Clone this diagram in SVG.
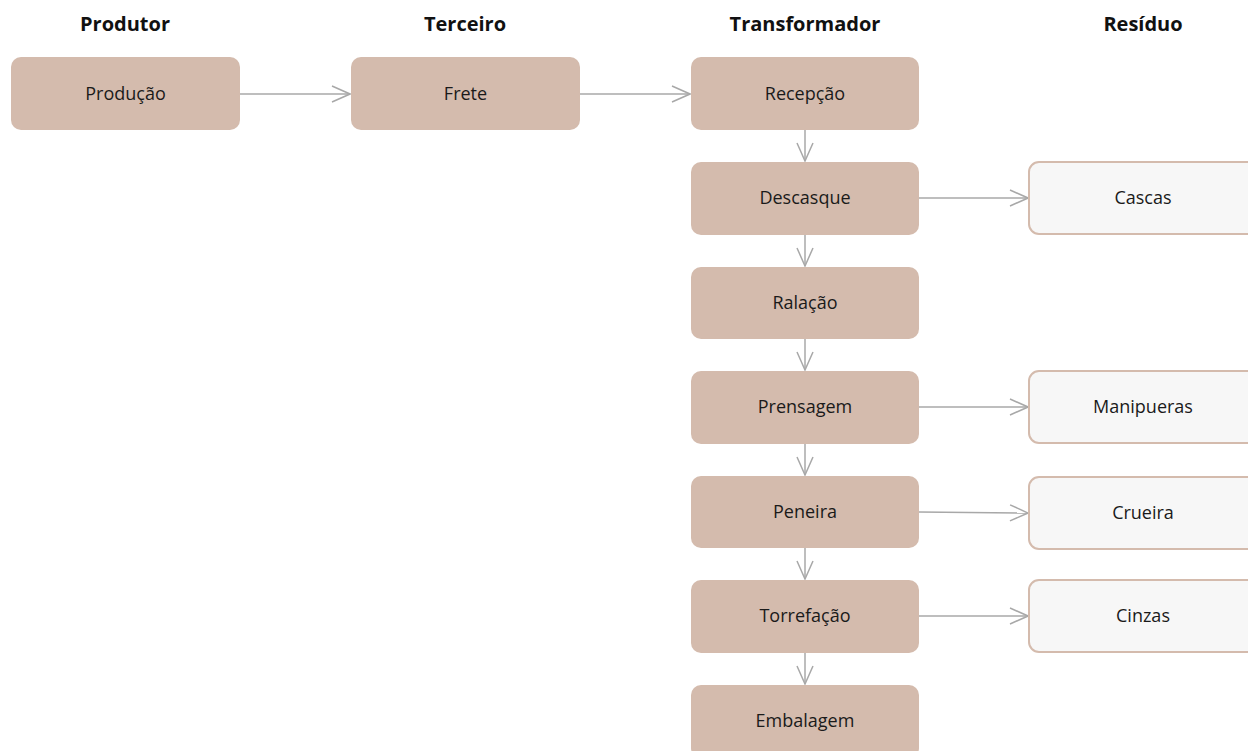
<svg xmlns="http://www.w3.org/2000/svg" width="1248" height="751" viewBox="0 0 1248 751">
<style>
.h{font-family:"Open Sans","Noto Sans",sans-serif;font-size:20px;font-weight:bold;fill:#111;text-anchor:middle}
.p rect{fill:#d4bbad}
.r rect{fill:#f7f7f7;stroke:#d4bbad;stroke-width:2}
text.t{font-family:"Open Sans","Noto Sans",sans-serif;font-size:18px;fill:#1a1a1a;text-anchor:middle;dominant-baseline:central}
.c line{stroke:#a8a8a8;stroke-width:1.5;fill:none}
</style>
<defs>
<marker id="a" viewBox="0 0 20 20" refX="19" refY="10" markerWidth="20" markerHeight="20" markerUnits="userSpaceOnUse" orient="auto">
<path d="M1,2 L19,10 L1,18" fill="none" stroke="#a8a8a8" stroke-width="1.5"/>
</marker>
</defs>
<g id="headers">
<text class="h" x="125" y="31">Produtor</text>
<text class="h" x="465" y="31">Terceiro</text>
<text class="h" x="805" y="31">Transformador</text>
<text class="h" x="1143" y="31">Resíduo</text>
</g>
<g class="c" id="connectors">
<line x1="240" y1="94" x2="350" y2="94" marker-end="url(#a)"/>
<line x1="580" y1="94" x2="690" y2="94" marker-end="url(#a)"/>
<line x1="805" y1="130" x2="805" y2="161" marker-end="url(#a)"/>
<line x1="805" y1="235" x2="805" y2="266" marker-end="url(#a)"/>
<line x1="805" y1="339" x2="805" y2="370" marker-end="url(#a)"/>
<line x1="805" y1="444" x2="805" y2="475" marker-end="url(#a)"/>
<line x1="805" y1="548" x2="805" y2="579" marker-end="url(#a)"/>
<line x1="805" y1="653" x2="805" y2="684" marker-end="url(#a)"/>
<line x1="919" y1="198" x2="1028" y2="198" marker-end="url(#a)"/>
<line x1="919" y1="407" x2="1028" y2="407" marker-end="url(#a)"/>
<line x1="919" y1="512" x2="1028" y2="513" marker-end="url(#a)"/>
<line x1="919" y1="616" x2="1028" y2="616" marker-end="url(#a)"/>
</g>
<g id="producao" class="p"><rect x="11" y="57" width="229" height="73" rx="10"/><text class="t" x="125.5" y="93">Produção</text></g>
<g id="frete" class="p"><rect x="351" y="57" width="229" height="73" rx="10"/><text class="t" x="465.5" y="93">Frete</text></g>
<g id="recepcao" class="p"><rect x="691" y="57" width="228" height="73" rx="10"/><text class="t" x="805" y="93">Recepção</text></g>
<g id="descasque" class="p"><rect x="691" y="162" width="228" height="73" rx="10"/><text class="t" x="805" y="197">Descasque</text></g>
<g id="ralacao" class="p"><rect x="691" y="267" width="228" height="72" rx="10"/><text class="t" x="805" y="302">Ralação</text></g>
<g id="prensagem" class="p"><rect x="691" y="371" width="228" height="73" rx="10"/><text class="t" x="805" y="406">Prensagem</text></g>
<g id="peneira" class="p"><rect x="691" y="476" width="228" height="72" rx="10"/><text class="t" x="805" y="511">Peneira</text></g>
<g id="torrefacao" class="p"><rect x="691" y="580" width="228" height="73" rx="10"/><text class="t" x="805" y="615">Torrefação</text></g>
<g id="embalagem" class="p"><rect x="691" y="685" width="228" height="73" rx="10"/><text class="t" x="805" y="720">Embalagem</text></g>
<g id="cascas" class="r"><rect x="1029" y="162" width="230" height="72" rx="10"/><text class="t" x="1143" y="197">Cascas</text></g>
<g id="manipueras" class="r"><rect x="1029" y="371" width="230" height="72" rx="10"/><text class="t" x="1143" y="406">Manipueras</text></g>
<g id="crueira" class="r"><rect x="1029" y="477" width="230" height="72" rx="10"/><text class="t" x="1143" y="512">Crueira</text></g>
<g id="cinzas" class="r"><rect x="1029" y="580" width="230" height="72" rx="10"/><text class="t" x="1143" y="615">Cinzas</text></g>
</svg>
